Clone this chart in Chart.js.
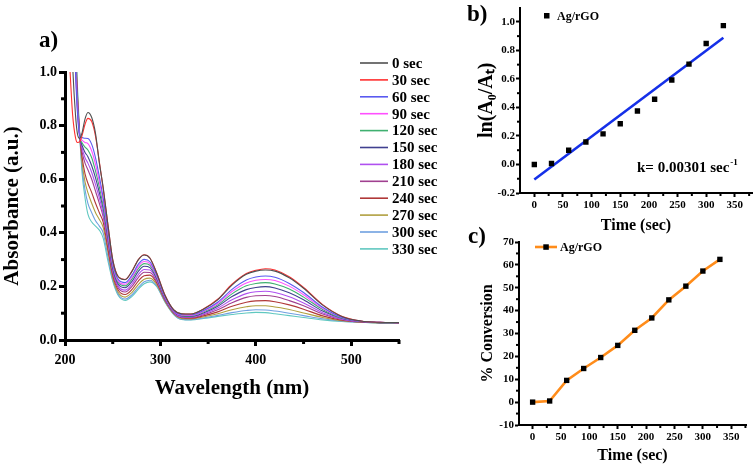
<!DOCTYPE html>
<html><head><meta charset="utf-8">
<script src="https://cdn.jsdelivr.net/npm/chart.js@4.4.0/dist/chart.umd.min.js"></script>
<style>
html,body{margin:0;padding:0;background:#fff;overflow:hidden}
#wrap{position:relative;width:756px;height:465px;overflow:hidden;background:#fff}
canvas{position:absolute}
.plbl{position:absolute;font-family:'Liberation Serif','Times New Roman',serif;font-weight:bold;font-size:23px;line-height:1;color:#000}
</style></head><body>
<div id="wrap">
<canvas id="ca" width="470" height="465" style="left:0;top:0"></canvas>
<canvas id="cb" width="316" height="240" style="left:440px;top:0"></canvas>
<canvas id="cc" width="316" height="235" style="left:440px;top:230px"></canvas>
<div class="plbl" style="left:39px;top:28px">a)</div>
<div class="plbl" style="left:467px;top:2px">b)</div>
<div class="plbl" style="left:468px;top:224px">c)</div>
</div>
<script>
const FONT = "'Liberation Serif','Times New Roman',serif";

// ---------- Panel a: UV-vis spectra ----------
const wavelengths = [205,208,211,213,215.5,218,221,224,228,232,236,240,245,
  250,256,263,270,277,283,289,296,305,314,322,332,345,360,375,390,400,410,420,435,450,470,490,510,530,550];
const timeLabels = ['0 sec','30 sec','60 sec','90 sec','120 sec','150 sec','180 sec','210 sec','240 sec','270 sec','300 sec','330 sec'];
const lineColors = ['#505050','#ff3030','#5a5af0','#ff50ff','#40b070','#404090','#b050f0','#a04090','#b03838','#b0a040','#70a0e0','#60c8c0'];

const abs0   = [1.4,1.03,0.84,0.77,0.752,0.775,0.825,0.849,0.83,0.77,0.66,0.57,0.43,
  0.30,0.235,0.225,0.255,0.30,0.317,0.305,0.25,0.165,0.112,0.098,0.097,0.115,0.15,0.205,0.245,0.257,0.261,0.257,0.232,0.193,0.13,0.088,0.071,0.066,0.065];
const abs30  = [1.02,0.84,0.755,0.737,0.74,0.765,0.805,0.827,0.815,0.76,0.665,0.565,0.43,
  0.30,0.236,0.226,0.256,0.301,0.318,0.306,0.251,0.166,0.112,0.098,0.097,0.116,0.152,0.208,0.248,0.260,0.266,0.261,0.236,0.196,0.132,0.089,0.071,0.066,0.065];
const abs60  = [1.6,1.3,1.0,0.85,0.76,0.755,0.753,0.752,0.73,0.68,0.61,0.53,0.41,
  0.288,0.225,0.214,0.241,0.284,0.301,0.292,0.243,0.161,0.110,0.095,0.094,0.110,0.141,0.189,0.224,0.235,0.239,0.234,0.211,0.177,0.122,0.085,0.070,0.066,0.065];
const abs90  = [1.6,1.3,1.02,0.86,0.76,0.745,0.737,0.733,0.705,0.655,0.59,0.52,0.40,
  0.282,0.219,0.208,0.234,0.276,0.293,0.285,0.239,0.159,0.108,0.093,0.092,0.107,0.136,0.181,0.213,0.223,0.226,0.222,0.201,0.169,0.118,0.084,0.070,0.066,0.065];
const abs120 = [1.6,1.3,1.03,0.87,0.76,0.735,0.72,0.709,0.68,0.63,0.57,0.50,0.39,
  0.276,0.214,0.202,0.227,0.267,0.285,0.279,0.235,0.158,0.107,0.092,0.090,0.105,0.131,0.172,0.202,0.211,0.214,0.209,0.190,0.160,0.114,0.082,0.070,0.065,0.065];
const abs150 = [1.6,1.3,1.04,0.88,0.76,0.725,0.70,0.684,0.65,0.605,0.55,0.49,0.38,
  0.268,0.207,0.195,0.218,0.257,0.275,0.270,0.230,0.155,0.105,0.090,0.088,0.101,0.126,0.162,0.188,0.196,0.199,0.194,0.176,0.150,0.108,0.081,0.069,0.065,0.065];
const abs180 = [1.6,1.3,1.05,0.89,0.76,0.715,0.68,0.66,0.625,0.58,0.53,0.47,0.37,
  0.260,0.200,0.186,0.208,0.245,0.263,0.261,0.225,0.152,0.103,0.087,0.086,0.097,0.119,0.150,0.173,0.180,0.182,0.177,0.161,0.138,0.102,0.078,0.069,0.065,0.065];
const abs210 = [1.6,1.3,1.06,0.90,0.76,0.70,0.66,0.635,0.60,0.555,0.51,0.46,0.36,
  0.252,0.193,0.179,0.199,0.234,0.253,0.252,0.220,0.150,0.102,0.085,0.084,0.094,0.113,0.139,0.159,0.165,0.166,0.162,0.147,0.128,0.097,0.077,0.068,0.065,0.064];
const abs240 = [1.6,1.3,1.08,0.91,0.76,0.68,0.62,0.585,0.55,0.51,0.475,0.44,0.34,
  0.242,0.185,0.170,0.188,0.221,0.240,0.242,0.214,0.147,0.100,0.083,0.081,0.090,0.105,0.126,0.141,0.146,0.147,0.143,0.131,0.115,0.090,0.074,0.067,0.065,0.064];
const abs270 = [1.6,1.3,1.10,0.92,0.76,0.66,0.59,0.55,0.51,0.475,0.45,0.42,0.33,
  0.233,0.176,0.160,0.177,0.208,0.227,0.231,0.208,0.144,0.098,0.080,0.079,0.086,0.098,0.113,0.124,0.128,0.128,0.123,0.114,0.101,0.084,0.072,0.067,0.064,0.064];
const abs300 = [1.6,1.3,1.12,0.93,0.76,0.64,0.56,0.51,0.475,0.445,0.425,0.40,0.31,
  0.225,0.170,0.153,0.168,0.197,0.217,0.223,0.203,0.142,0.096,0.078,0.076,0.082,0.092,0.102,0.110,0.113,0.112,0.108,0.100,0.091,0.079,0.070,0.066,0.064,0.064];
const abs330 = [1.6,1.3,1.15,0.95,0.76,0.62,0.53,0.47,0.44,0.425,0.41,0.38,0.295,
  0.22,0.165,0.148,0.162,0.19,0.21,0.217,0.20,0.14,0.095,0.077,0.075,0.08,0.088,0.095,0.101,0.103,0.102,0.098,0.091,0.084,0.075,0.069,0.066,0.064,0.064];
const spectra = [abs0,abs30,abs60,abs90,abs120,abs150,abs180,abs210,abs240,abs270,abs300,abs330];

const xTicksA = [200,300,400,500];
const xMinorA = [250,350,450,550];
const yTicksA = [0,0.2,0.4,0.6,0.8,1.0];
const yMinorA = [0.1,0.3,0.5,0.7,0.9];

// ---------- Panel b: kinetics ----------
const timeSec = [0,30,60,90,120,150,180,210,240,270,300,330];
const lnRatio = [0.0,0.007,0.100,0.158,0.215,0.286,0.375,0.457,0.592,0.704,0.848,0.974];
const fitTime = [0,330];
const fitLn = [-0.105,0.888];
const xTicksBC = [0,50,100,150,200,250,300,350];
const xMinorBC = [25,75,125,175,225,275,325,375];
const yTicksB = [-0.2,0,0.2,0.4,0.6,0.8,1.0];
const yMinorB = [-0.1,0.1,0.3,0.5,0.7,0.9];

// ---------- Panel c: conversion ----------
const conversion = [0,0.5,9.5,14.7,19.5,24.8,31.4,36.8,44.7,50.7,57.3,62.4];
const yTicksC = [-10,0,10,20,30,40,50,60,70];
const yMinorC = [-5,5,15,25,35,45,55,65];

function axis(o){
  return {
    type:'linear', min:o.min, max:o.max,
    afterBuildTicks: s => { s.ticks = o.ticks.map(v => ({value:v})); },
    afterFit: s => { if (o.w != null) s.width = o.w; if (o.h != null) s.height = o.h; },
    grid:{display:true, drawOnChartArea:false, drawTicks:true, tickLength:o.tl, tickWidth:o.tw, tickColor:'#000', color:'#000'},
    border:{display:true, color:'#000', width:o.bw},
    ticks:{color:'#000', font:{family:FONT, size:o.fs, weight:'bold'}, padding:o.pad, maxRotation:0, autoSkip:false, callback:o.fmt},
    title:{display:true, text:o.title, color:'#000', font:{family:FONT, size:o.tfs, weight:'bold', lineHeight:1.2}, padding:o.tpad}
  };
}

const minorTicks = {
  id:'minorTicks',
  afterDraw(chart, args, opts){
    const ctx = chart.ctx, ca = chart.chartArea;
    ctx.save(); ctx.strokeStyle = '#000';
    (opts.list || []).forEach(m => {
      const s = chart.scales[m.axis];
      ctx.lineWidth = m.width;
      m.values.forEach(v => {
        const p = s.getPixelForValue(v);
        ctx.beginPath();
        if (m.axis === 'x') { ctx.moveTo(p, ca.bottom); ctx.lineTo(p, ca.bottom + m.len); }
        else { ctx.moveTo(ca.left, p); ctx.lineTo(ca.left - m.len, p); }
        ctx.stroke();
      });
    });
    ctx.restore();
  }
};

const legendA = {
  id:'legendA',
  afterDraw(chart, args, o){
    const ctx = chart.ctx;
    ctx.save();
    ctx.font = 'bold ' + o.size + 'px ' + FONT;
    ctx.textBaseline = 'middle';
    chart.data.datasets.forEach((ds, i) => {
      const y = o.y0 + i * o.dy;
      ctx.strokeStyle = ds.borderColor; ctx.lineWidth = 1.6;
      ctx.beginPath(); ctx.moveTo(o.x0, y); ctx.lineTo(o.x1, y); ctx.stroke();
      ctx.fillStyle = '#000'; ctx.fillText(ds.label, o.tx, y + 1);
    });
    ctx.restore();
  }
};

// Panel a chart
new Chart(document.getElementById('ca'), {
  type:'line',
  data:{ datasets: spectra.map((vals, i) => ({
    label: timeLabels[i],
    data: wavelengths.map((w, j) => ({x:w, y:vals[j]})),
    borderColor: lineColors[i], borderWidth:1.1, pointRadius:0,
    cubicInterpolationMode:'monotone', fill:false, clip:0
  }))},
  options:{
    responsive:false, animation:false, events:[],
    layout:{padding:{left:0, top:72, right:71, bottom:0}},
    plugins:{ legend:{display:false}, tooltip:{enabled:false},
      minorTicks:{list:[{axis:'x', values:xMinorA, len:4, width:3},{axis:'y', values:yMinorA, len:4, width:3}]},
      legendA:{x0:360, x1:388, tx:392, y0:63, dy:16.9, size:15}
    },
    scales:{
      x: axis({min:200, max:550, ticks:xTicksA, h:125, tl:6, tw:3, bw:3, fs:14, pad:6,
        fmt:v => String(v), title:'Wavelength (nm)', tfs:21, tpad:{top:0, bottom:64}}),
      y: axis({min:0, max:1.0, ticks:yTicksA, w:65, tl:6, tw:3, bw:3, fs:14, pad:2,
        fmt:v => Number(v).toFixed(1), title:'Absorbance (a.u.)', tfs:21, tpad:{top:0, bottom:0}})
    }
  },
  plugins:[minorTicks, legendA]
});

// Panel b chart
const overlayB = {
  id:'overlayB',
  afterDraw(chart){
    const ctx = chart.ctx;
    ctx.save();
    ctx.fillStyle = '#000';
    ctx.fillRect(104, 13, 5.5, 5.5);
    ctx.font = 'bold 12px ' + FONT; ctx.textBaseline = 'middle';
    ctx.fillText(chart.data.datasets[0].label, 117, 16.5);
    ctx.font = 'bold 15px ' + FONT; ctx.textBaseline = 'alphabetic';
    const t = 'k= 0.00301 sec';
    ctx.fillText(t, 197, 172);
    const w = ctx.measureText(t).width;
    ctx.font = 'bold 9px ' + FONT;
    ctx.fillText('-1', 197 + w + 1, 165);
    ctx.restore();
  }
};
new Chart(document.getElementById('cb'), {
  type:'scatter',
  data:{ datasets:[
    { label:'Ag/rGO', data: timeSec.map((t, i) => ({x:t, y:lnRatio[i]})),
      pointStyle:'rect', pointRadius:3.8, backgroundColor:'#000', borderColor:'#000', borderWidth:0, showLine:false },
    { label:'fit', type:'line', data: fitTime.map((t, i) => ({x:t, y:fitLn[i]})),
      borderColor:'#1530e8', borderWidth:2.6, pointRadius:0, fill:false }
  ]},
  options:{
    responsive:false, animation:false, events:[],
    layout:{padding:{left:0, top:3, right:2, bottom:0}},
    plugins:{ legend:{display:false}, tooltip:{enabled:false},
      minorTicks:{list:[{axis:'x', values:xMinorBC, len:3, width:2},{axis:'y', values:yMinorB, len:3, width:2}]}
    },
    scales:{
      x: axis({min:-25, max:380, ticks:xTicksBC, h:47, tl:4, tw:2, bw:2, fs:11, pad:2,
        fmt:v => String(v), title:'Time (sec)', tfs:16, tpad:{top:0, bottom:5}}),
      y: axis({min:-0.2, max:1.1, ticks:yTicksB, w:80, tl:4, tw:2, bw:2, fs:11, pad:1,
        fmt:v => Number(v).toFixed(1), title:'ln(A\u2080/A\u209C)', tfs:20, tpad:{top:35, bottom:0}})
    }
  },
  plugins:[minorTicks, overlayB]
});

// Panel c chart
const overlayC = {
  id:'overlayC',
  afterDraw(chart){
    const ctx = chart.ctx;
    ctx.save();
    ctx.strokeStyle = '#ff8c1a'; ctx.lineWidth = 2.6;
    ctx.beginPath(); ctx.moveTo(95, 17); ctx.lineTo(117, 17); ctx.stroke();
    ctx.fillStyle = '#000'; ctx.fillRect(103.3, 14.3, 5.5, 5.5);
    ctx.font = 'bold 12px ' + FONT; ctx.textBaseline = 'middle';
    ctx.fillText(chart.data.datasets[0].label, 120, 17.5);
    ctx.restore();
  }
};
new Chart(document.getElementById('cc'), {
  type:'line',
  data:{ datasets:[
    { label:'Ag/rGO', data: timeSec.map((t, i) => ({x:t, y:conversion[i]})),
      borderColor:'#ff8c1a', borderWidth:2.6, pointStyle:'rect', pointRadius:3.8,
      pointBackgroundColor:'#000', pointBorderColor:'#000', pointBorderWidth:0, tension:0, fill:false }
  ]},
  options:{
    responsive:false, animation:false, events:[],
    layout:{padding:{left:0, top:12, right:10, bottom:0}},
    plugins:{ legend:{display:false}, tooltip:{enabled:false},
      minorTicks:{list:[{axis:'x', values:xMinorBC, len:3, width:2},{axis:'y', values:yMinorC, len:3, width:2}]}
    },
    scales:{
      x: axis({min:-24, max:376, ticks:xTicksBC, h:40, tl:4, tw:2, bw:2, fs:11, pad:2,
        fmt:v => String(v), title:'Time (sec)', tfs:16, tpad:{top:0, bottom:0}}),
      y: axis({min:-10, max:70, ticks:yTicksC, w:79, tl:4, tw:2, bw:2, fs:11, pad:1,
        fmt:v => String(v), title:'% Conversion', tfs:16, tpad:{top:38, bottom:0}})
    }
  },
  plugins:[minorTicks, overlayC]
});
</script>
</body></html>
